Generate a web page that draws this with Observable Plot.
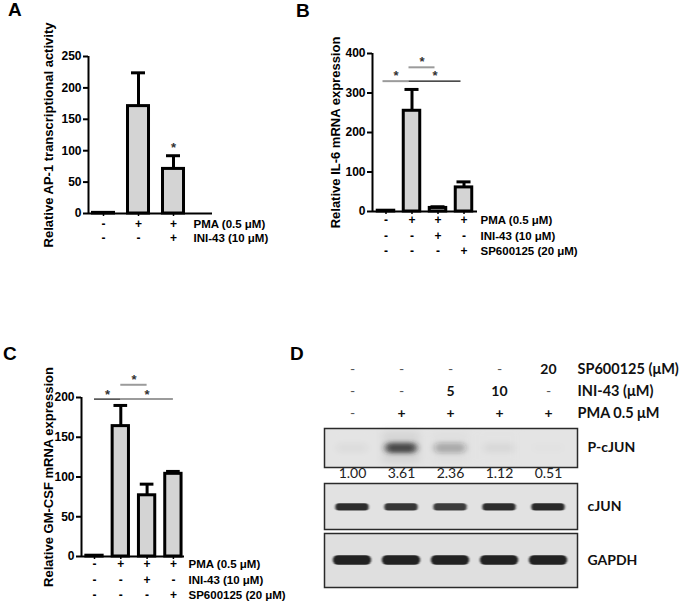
<!DOCTYPE html>
<html><head><meta charset="utf-8">
<script src="https://cdn.jsdelivr.net/npm/d3@7"></script>
<script src="https://cdn.jsdelivr.net/npm/@observablehq/plot@0.6"></script>
<style>
html,body{margin:0;padding:0;background:#fff;}
#root{position:relative;width:683px;height:606px;overflow:hidden;background:#fff;}
.panel{position:absolute;}
.letter{position:absolute;font:bold 19px "Liberation Sans",Arial,sans-serif;line-height:19px;color:#000;}
</style></head><body><div id="root"></div>
<script>
// ---------- data ----------
// Panel A
const pmaA = ["-", "+", "+"];
const iniA = ["-", "-", "+"];
const ap1Mean = [1, 171, 71];
const ap1Upper = [1, 224, 92];
const ap1Star = [false, false, true];
const ap1Ticks = [0, 50, 100, 150, 200, 250];
// Panels B & C conditions
const pmaBC = ["-", "+", "+", "+"];
const iniBC = ["-", "-", "+", "-"];
const spBC = ["-", "-", "-", "+"];
// Panel B
const il6Mean = [2, 255, 9, 61];
const il6Upper = [2, 309, 12, 75];
const il6Ticks = [0, 100, 200, 300, 400];
const il6Sig = [
  {a: 0, b: 1, y: 330, tone: "gray"},
  {a: 1, b: 2, y: 365, tone: "gray"},
  {a: 1, b: 3, y: 330, tone: "black"}
];
// Panel C
const gmMean = [1, 164, 77, 104];
const gmUpper = [1, 190, 91, 107];
const gmTicks = [0, 50, 100, 150, 200];
const gmSig = [
  {a: 0, b: 1, y: 198, tone: "black"},
  {a: 1, b: 2, y: 216, tone: "gray"},
  {a: 1, b: 3, y: 198, tone: "gray"}
];
// Panel D
const spD = ["-", "-", "-", "-", "20"];
const iniD = ["-", "-", "5", "10", "-"];
const pmaD = ["-", "+", "+", "+", "+"];
const headerKeys = ["SP600125 (μM)", "INI-43 (μM)", "PMA 0.5 μM"];
const pcjunQuant = [1.00, 3.61, 2.36, 1.12, 0.51];
const cjunDensity = [0.92, 0.9, 0.85, 0.92, 0.96];
const gapdhDensity = [1, 1, 1, 1, 1];

// ---------- helpers ----------
const root = document.getElementById("root");
const FONT = "'Liberation Sans', Arial, sans-serif";
function place(el, left, top) {
  const d = document.createElement("div");
  d.className = "panel";
  d.style.left = left + "px";
  d.style.top = top + "px";
  d.appendChild(el);
  root.appendChild(d);
}
function letter(t, left, top) {
  const d = document.createElement("div");
  d.className = "letter";
  d.textContent = t;
  d.style.left = left + "px";
  d.style.top = top + "px";
  root.appendChild(d);
}

function barPanel(o) {
  const data = o.mean.map((m, i) => ({i, mean: m, upper: o.upper[i], star: o.star ? o.star[i] : false}));
  const withErr = data.filter(d => d.upper > d.mean);
  const gray = "#9b9b9b";
  const T = {fontFamily: FONT, fontWeight: "bold"};
  const marks = [
    Plot.rect(data, {x1: d => d.i - o.halfBar, x2: d => d.i + o.halfBar, y1: 0, y2: "mean", fill: "#d4d4d4", stroke: "#000", strokeWidth: 3}),
    Plot.ruleX(withErr, {x: "i", y1: "mean", y2: "upper", stroke: "#000", strokeWidth: 3}),
    Plot.ruleY(withErr, {x1: d => d.i - o.halfCap, x2: d => d.i + o.halfCap, y: "upper", stroke: "#000", strokeWidth: 3}),
    Plot.ruleY([0], {stroke: "#000", strokeWidth: 2}),
    Plot.ruleX([o.xDomain[0]], {x: d => d, y1: 0, y2: o.yDomain[1], stroke: "#000", strokeWidth: 2}),
    Plot.axisY({ticks: o.ticks, tickSize: 5, tickPadding: 2, strokeWidth: 2, label: null, fontSize: 12, ...T}),
    Plot.axisX({ticks: data.map(d => d.i), tickSize: 3, tickFormat: () => "", strokeWidth: 1.5, label: null}),
    Plot.text([o.label], {text: d => d, frameAnchor: "left", textAnchor: "middle", rotate: -90, dx: o.labelDx, fontSize: 13, ...T})
  ];
  o.rows.forEach((r, k) => {
    marks.push(Plot.text(r, {x: (d, i) => i, text: d => d, frameAnchor: "bottom", dy: o.rowDy[k], fontSize: 12, ...T}));
    marks.push(Plot.text([o.rowNames[k]], {text: d => d, frameAnchor: "bottom-right", dx: o.nameDx, dy: o.rowDy[k], textAnchor: "start", fontSize: 11.5, ...T}));
  });
  if (o.star) {
    marks.push(Plot.text(data.filter(d => d.star), {x: "i", y: "upper", text: () => "*", dy: -8, fontSize: 13, fontFamily: FONT, fill: "#333"}));
  }
  if (o.sig) {
    marks.push(Plot.ruleY(o.sig.filter(d => d.tone === "gray"), {x1: "a", x2: "b", y: "y", stroke: gray, strokeWidth: 2, dx: o.sigDx}));
    marks.push(Plot.ruleY(o.sig.filter(d => d.tone === "black"), {x1: "a", x2: "b", y: "y", stroke: "#111", strokeWidth: 1.2, dx: o.sigDx}));
    marks.push(Plot.text(o.sig, {x: d => (d.a + d.b) / 2, y: "y", text: () => "*", dx: o.sigDx, dy: o.starDy, fontSize: 13, fontFamily: FONT, fill: "#333"}));
  }
  return Plot.plot({
    width: o.width, height: o.height,
    marginLeft: o.ml, marginRight: o.mr, marginTop: o.mt, marginBottom: o.mb,
    x: {domain: o.xDomain, label: null},
    y: {domain: o.yDomain, label: null},
    style: `font-family: ${FONT}; font-size: 12px; font-weight: bold; color: #000; background: transparent; overflow: visible;`,
    marks
  });
}

// ---------- Panel A ----------
place(barPanel({
  width: 340, height: 260, ml: 88, mr: 128, mt: 56, mb: 47,
  xDomain: [-0.4286, 3.114], yDomain: [0, 250],
  mean: ap1Mean, upper: ap1Upper, star: ap1Star, ticks: ap1Ticks,
  halfBar: 0.3, halfCap: 0.2,
  rows: [pmaA, iniA], rowNames: ["PMA (0.5 μM)", "INI-43 (10 μM)"], rowDy: [14, 28], nameDx: -19,
  label: "Relative AP-1 transcriptional activity", labelDx: -40
}), 0, 0);

// ---------- Panel B ----------
place(barPanel({
  width: 383, height: 270, ml: 72, mr: 206, mt: 53, mb: 59,
  xDomain: [-0.519, 3.519], yDomain: [0, 400],
  mean: il6Mean, upper: il6Upper, ticks: il6Ticks,
  halfBar: 0.317, halfCap: 0.27,
  rows: [pmaBC, iniBC, spBC], rowNames: ["PMA (0.5 μM)", "INI-43 (10 μM)", "SP600125 (20 μM)"], rowDy: [12, 28, 43], nameDx: 3,
  label: "Relative IL-6 mRNA expression", labelDx: -37,
  sig: il6Sig, sigDx: -3, starDy: -5.5
}), 300, 0);

// ---------- Panel C ----------
place(barPanel({
  width: 340, height: 306, ml: 81, mr: 156, mt: 97, mb: 50,
  xDomain: [-0.494, 3.422], yDomain: [0, 200],
  mean: gmMean, upper: gmUpper, ticks: gmTicks,
  halfBar: 0.31, halfCap: 0.26,
  rows: [pmaBC, iniBC, spBC], rowNames: ["PMA (0.5 μM)", "INI-43 (10 μM)", "SP600125 (20 μM)"], rowDy: [11, 27, 42], nameDx: 4,
  label: "Relative GM-CSF mRNA expression", labelDx: -33,
  sig: gmSig, sigDx: 0, starDy: -4.5
}), 0, 300);

// ---------- Panel D ----------
const laneDomain = [-0.571, 4.592];
const DFONT = "Lato, 'Open Sans', sans-serif";
function dPlot(opts) {
  return Plot.plot({
    width: 359, marginLeft: 0, marginRight: 106,
    x: {domain: laneDomain, label: null, axis: null},
    style: `font-family: ${DFONT}; font-size: 14px; color: #111; background: transparent; overflow: visible;`,
    ...opts
  });
}
function addBlur(svg, fill, sd, id) {
  const ns = "http://www.w3.org/2000/svg";
  const defs = document.createElementNS(ns, "defs");
  defs.innerHTML = `<filter id="${id}" x="-50%" y="-300%" width="200%" height="700%"><feGaussianBlur stdDeviation="${sd}"/></filter>`;
  svg.insertBefore(defs, svg.firstChild);
  svg.querySelectorAll("g").forEach(g => { if (g.getAttribute("fill") === fill) g.setAttribute("filter", `url(#${id})`); });
}
const DT = {fontFamily: DFONT};

// header rows
const hdata = [spD, iniD, pmaD].flatMap((r, k) => r.map((s, i) => ({i, k: headerKeys[k], s})));
place(dPlot({
  height: 70, marginTop: 13, marginBottom: 12,
  y: {type: "point", domain: headerKeys, padding: 0, axis: null, label: null},
  marks: [
    Plot.text(hdata.filter(d => d.s === "-"), {x: "i", y: "k", text: "s", fill: "#555", fontSize: 14, ...DT}),
    Plot.text(hdata.filter(d => d.s !== "-"), {x: "i", y: "k", text: "s", fontWeight: "bold", fontSize: 14, ...DT}),
    Plot.text(headerKeys, {y: d => d, text: d => d, frameAnchor: "right", textAnchor: "start", fontWeight: "bold", fontSize: 14.5, ...DT})
  ]
}), 324, 355);

// P-cJUN strip
const pData = pcjunQuant.map((q, i) => ({i, q}));
const pSvg = dPlot({
  height: 55, marginTop: 0, marginBottom: 16,
  y: {domain: [0, 1], axis: null, label: null},
  opacity: {type: "pow", exponent: 2.5, domain: [0, 3.61], range: [0, 0.8]},
  marks: [
    Plot.frame({fill: "#e4e4e4", stroke: "none"}),
    Plot.rect(pData, {x1: d => d.i - 0.38, x2: d => d.i + 0.38, y1: 0.1, y2: 0.92, fill: "#d2d2d2", fillOpacity: "q"}),
    Plot.rect(pData, {x1: d => d.i - 0.32, x2: d => d.i + 0.32, y1: 0.36, y2: 0.62, fill: "#262626", fillOpacity: "q", rx: 5}),
    Plot.frame({stroke: "#2a2a2a", strokeWidth: 1.5}),
    Plot.text(pData, {x: "i", text: d => d.q.toFixed(2), frameAnchor: "bottom", dy: 10, fontSize: 14, fill: "#222", ...DT}),
    Plot.text(["P-cJUN"], {text: d => d, frameAnchor: "right", dx: 10, textAnchor: "start", fontWeight: "bold", fontSize: 14, ...DT})
  ]
});
addBlur(pSvg, "#d2d2d2", "4 3", "blurSmear");
addBlur(pSvg, "#262626", "3 2", "blurP");
place(pSvg, 324, 428);

// cJUN strip
const cData = cjunDensity.map((v, i) => ({i, v}));
const cSvg = dPlot({
  height: 46, marginTop: 0, marginBottom: 0,
  y: {domain: [0, 1], axis: null, label: null},
  opacity: {domain: [0, 1], range: [0, 1]},
  marks: [
    Plot.frame({fill: "#e2e2e2", stroke: "none"}),
    Plot.rect(cData, {x1: d => d.i - 0.34, x2: d => d.i + 0.34, y1: 0.40, y2: 0.56, fill: "#212121", fillOpacity: "v", rx: 3.5}),
    Plot.frame({stroke: "#2a2a2a", strokeWidth: 1.5}),
    Plot.text(["cJUN"], {text: d => d, frameAnchor: "right", dx: 10, textAnchor: "start", fontWeight: "bold", fontSize: 14, ...DT})
  ]
});
addBlur(cSvg, "#212121", "1 0.7", "blurC");
place(cSvg, 324, 483);

// GAPDH strip
const gData = gapdhDensity.map((v, i) => ({i, v}));
const gSvg = dPlot({
  height: 54, marginTop: 0, marginBottom: 0,
  y: {domain: [0, 1], axis: null, label: null},
  opacity: {domain: [0, 1], range: [0, 1]},
  marks: [
    Plot.frame({fill: "#dfdfdf", stroke: "none"}),
    Plot.rect(gData, {x1: d => d.i - 0.39, x2: d => d.i + 0.39, y1: 0.41, y2: 0.59, fill: "#232323", fillOpacity: "v", rx: 5}),
    Plot.frame({stroke: "#2a2a2a", strokeWidth: 1.5}),
    Plot.text(["GAPDH"], {text: d => d, frameAnchor: "right", dx: 10, textAnchor: "start", fontWeight: "bold", fontSize: 14, ...DT})
  ]
});
addBlur(gSvg, "#232323", "1 0.7", "blurG");
place(gSvg, 324, 533);

// panel letters
letter("A", 8, 0);
letter("B", 296, 1);
letter("C", 3, 344);
letter("D", 290, 344);
</script></body></html>
